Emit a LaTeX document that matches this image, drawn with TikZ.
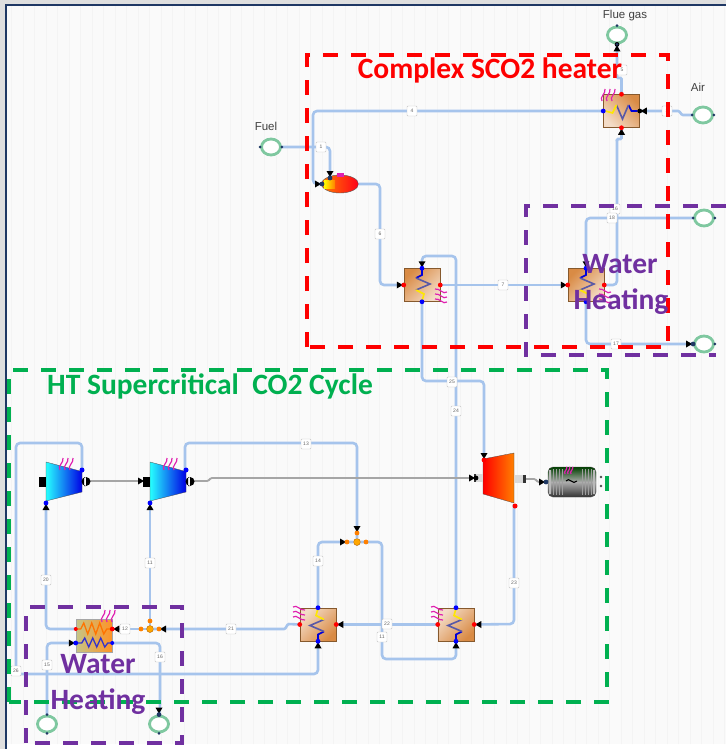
\documentclass[tikz,border=0pt]{standalone}
\usepackage{fontspec}
\setmainfont{Liberation Sans}
\newfontfamily\headfont{Carlito}
\usetikzlibrary{arrows.meta}
\usetikzlibrary{positioning, shapes.geometric}

\definecolor{pipeblue}{HTML}{A6C4EC}
\definecolor{sheet}{HTML}{FAFAFA}
\definecolor{gridline}{HTML}{F4F4F4}
\definecolor{navy}{HTML}{1F3864}
\definecolor{boxred}{HTML}{FE0000}
\definecolor{boxgreen}{HTML}{00B050}
\definecolor{boxpurple}{HTML}{7030A0}
\definecolor{ringgreen}{HTML}{7FC8A0}
\definecolor{hxbrown}{HTML}{D98B45}
\definecolor{heatpink}{HTML}{E020B0}

\tikzset{
  x=1pt, y=-1pt,
  pipe/.style={draw=pipeblue, line width=2.6pt, rounded corners=4pt},
  jog/.style={rounded corners=1pt},
  shaft/.style={draw=gray!70, line width=1.8pt, rounded corners=1pt},
  streamlab/.style={draw=gray!45, fill=white, rounded corners=1pt, inner sep=0pt,
    minimum width=10pt, minimum height=10pt, font=\fontsize{5}{5}\selectfont, text=gray!80!black},
  ring/.style={ellipse, draw=ringgreen, line width=2.8pt, fill=white, minimum width=19pt, minimum height=16pt, inner sep=0pt},
  hxbox/.style={draw=brown!70!black, line width=0.5pt, minimum width=36pt, minimum height=33pt,
    inner sep=0pt, left color=hxbrown, right color=hxbrown!30!white, shading angle=#1},
  endlab/.style={font=\fontsize{11.5}{12}\selectfont, text=black!75},
  redbox/.style={draw=boxred, line width=3.6pt, dash pattern=on 15pt off 13pt},
  greenbox/.style={draw=boxgreen, line width=3.6pt, dash pattern=on 15pt off 13pt},
  purplebox/.style={draw=boxpurple, line width=3.6pt, dash pattern=on 15pt off 13pt},
  boxtitle/.style={inner sep=0pt, font=\headfont\bfseries\fontsize{#1}{#1}\selectfont},
  pics/port/.style={code={
    \fill[black] (-7,-3.5) -- (-1,0) -- (-7,3.5) -- cycle;
    \fill[#1] (0,0) circle (2.4);
  }},
  pics/coil/.style={code={
    \draw[blue!85!black, line width=1.6pt] (0,-16) -- (0,-10) -- (-6,-7);
    \draw[gray!70!blue, line width=1.6pt] (-6,-7) -- (8,-1) -- (-6,5);
    \draw[yellow!90!orange, line width=1.6pt] (-6,5) -- (2,9) -- (0,16);
  }},
  pics/heat/.style={code={
    \foreach \hs in {0,5,10}
      \draw[heatpink, line width=1.2pt] (\hs,0) .. controls (\hs-3,-4) and (\hs+4,-7) .. (\hs+3,-12);
  }},
}

\begin{document}
\begin{tikzpicture}
  \useasboundingbox (0,0) rectangle (726,749);
  % sheet and window edge
  \fill[white] (0,0) rectangle (726,749);
  \fill[sheet] (6,5) rectangle (726,744);
  \draw[gridline, line width=0.3pt, xstep=11.5, ystep=11.5] (6,5) grid (726,744);
  \fill[gray!25] (0,0) rectangle (726,4);
  \fill[gray!25] (0,0) rectangle (5,749);
  \draw[navy, line width=1.5pt] (6,749) -- (6,5) -- (726,5);

  % equipment
  \node[ring] (fuel) at (271,147) {};
  \node[ring] (flue) at (617,35) {};
  \node[ring] (air) at (703,115) {};
  \node[ring] (watout) at (704,218) {};
  \node[ring] (watin) at (704,344) {};
  \node[ring] (lowin) at (47,724) {};
  \node[ring] (lowout) at (159,724) {};
  \node[endlab] (fuellab) at (266,126) {Fuel};
  \node[endlab] (fluelab) at (625,16) {Flue gas};
  \node[endlab] (airlab) at (698,87) {Air};

  \node[ellipse, draw=gray!70!black, line width=0.4pt, minimum width=37pt, minimum height=18pt, inner sep=0pt,
    left color=orange, right color=red!90!magenta] (combo) at (340,184) {};
  \node[hxbox=-45] (hxtop) at (621.5,111) {};
  \node[hxbox=45] (hxa) at (422,285) {};
  \node[hxbox=45] (hxb) at (586,285) {};
  \node[hxbox=225] (hxc) at (318,624.5) {};
  \node[hxbox=225] (hxd) at (456,624.5) {};
  \node[draw=gray!70, line width=0.5pt, minimum width=36pt, minimum height=33pt, inner sep=0pt,
    left color=yellow!35!gray!70, right color=orange!85] (hxe) at (94,635.5) {};

  \node[circle, fill=orange!70!yellow, draw=orange!60!black, line width=0.3pt, minimum size=7pt, inner sep=0pt] (spla) at (357,542) {};
  \node[circle, fill=orange!70!yellow, draw=orange!60!black, line width=0.3pt, minimum size=7pt, inner sep=0pt] (splb) at (150,629) {};
  \node[rounded corners=5pt, draw=gray!60!black, line width=0.4pt, minimum width=48pt, minimum height=30pt,
    inner sep=0pt, top color=black!75!green, bottom color=black!80, middle color=gray!65] (gen) at (572,482) {};

  % streams
  \draw[pipe] (fuel.east) -- (330,147) -- (330,176);
  \draw[pipe] (hxtop.west) -- (313,111) -- (313,184) -- (combo.west);
  \draw[pipe] (combo.east) -- (380,184) -- (380,285) -- (hxa.west);
  \draw[pipe] (hxa.east) -- (hxb.west);
  \draw[pipe] (hxb.east) -- (617,285) -- (617,140);
  \draw[pipe, jog] (617,141) -- (617,139) -- (621.5,139) -- (hxtop.south);
  \draw[pipe, jog] (hxtop.north) -- (621.5,78) -- (617,78) -- (flue.south);
  \draw[pipe, jog] (air.west) -- (682,115) -- (679,111) -- (hxtop.east);
  \draw[pipe] (watout.west) -- (586,218) -- (hxb.north);
  \draw[pipe] (hxb.south) -- (586,344) -- (watin.west);
  \draw[pipe] (hxa.north) -- (422,256) -- (456,256) -- (hxd.north);
  \draw[pipe] (hxa.south) -- (422,381) -- (484,381) -- (484,456);
  \draw[pipe] (514,504) -- (514,624) -- (hxd.east);
  \draw[pipe] (hxd.west) -- (hxc.east);
  \draw[pipe, jog] (hxc.west) -- (288,624) -- (285,629) -- (splb);
  \draw[pipe] (splb) -- (hxe.east |- splb);
  \draw[pipe] (splb) -- (150,505);
  \draw[pipe] (hxe.west |- splb) -- (46,629) -- (46,505);
  \draw[pipe] (82,472) -- (82,443) -- (16,443) -- (16,674) -- (318,674) -- (hxc.south);
  \draw[pipe] (185,472) -- (185,443) -- (357,443) -- (spla);
  \draw[pipe] (spla) -- (318,542) -- (hxc.north);
  \draw[pipe] (spla) -- (382,542) -- (382,659) -- (456,659) -- (hxd.south);
  \draw[pipe] (lowin.north) -- (47,643) -- (76,643);
  \draw[pipe] (112,643) -- (160,643) -- (160,708) -- (lowout.north);

  % shaft line
  \draw[shaft] (90,481) -- (138,481);
  \draw[shaft] (194,481) -- (208,481) -- (211,478) -- (472,478);
  \draw[shaft] (522,479) -- (535,479) -- (538,482) -- (546,482);

  % machines
  \shade[left color=cyan!85!white, right color=blue!90!black, draw=gray!60!black, line width=0.3pt]
    (46,462) -- (82,471.5) -- (82,492) -- (46,501) -- cycle;
  \shade[left color=cyan!85!white, right color=blue!90!black, draw=gray!60!black, line width=0.3pt]
    (150,462) -- (186,471.5) -- (186,492) -- (150,501) -- cycle;
  \shade[left color=red, right color=orange, draw=gray!60!black, line width=0.3pt]
    (483,459) -- (514,453) -- (514,503) -- (483,494) -- cycle;
  \fill[black] (84,477) rectangle (86,486) (86,481.5) circle (4.5);
  \fill[black] (188,477) rectangle (190,486) (190,481.5) circle (4.5);
  \fill[black] (39,477) rectangle (46,487);
  \fill[black] (143,477) rectangle (150,487);
  \fill[gray!30] (515,475) rectangle (523,483);
  \fill[black!80] (523,475) rectangle (526,483);
  \fill[gray!30] (476,474) rectangle (483,482);
  \fill[black!80] (474,474) rectangle (476,482);
  \pic at (145,481) {port=black};
  \pic at (476,478) {port=black};
  \pic at (546,482) {port=navy};
  \pic[rotate=-90] at (484,460) {port=red};
  \pic[rotate=90] at (46,503) {port=blue};
  \pic[rotate=90] at (150,503) {port=blue};
  \fill[blue] (82,470) circle (2.5) (186,470) circle (2.5);
  \fill[red] (515,506) circle (2.5);
  \pic at (60,470) {heat};
  \pic at (164,470) {heat};

  % generator details
  \foreach \gx in {553,556,559,562,582,585,588,591}
    \draw[gray!75, line width=0.6pt] (\gx,469) -- (\gx,495);
  \fill[gray!55] (549,470) rectangle (551,494) (593,470) rectangle (595,494);
  \draw[black, line width=1.1pt] (566,481) .. controls (569,476) and (573,486) .. (577,481);
  \pic[scale=.6] at (565,474) {heat};
  \fill[black!70] (601,477) circle (1.3) (601,486) circle (1.3);

  % combustor and exchanger details
  \shade[left color=yellow, right color=orange] (324,180) rectangle (335,188);
  \fill[heatpink] (337,173) rectangle (344,177);
  \pic at (322,184) {port=navy};
  \pic[rotate=-90] at (330,178) {port=navy};
  \pic[rotate=-90] at (hxtop) {coil};
  \pic at (hxa) {coil};
  \pic at (hxb) {coil};
  \pic[rotate=180] at (hxc) {coil};
  \pic[rotate=180] at (hxd) {coil};
  \draw[orange!90!red, line width=1.3pt] (hxe.west |- 0,629) -- ++(5,0) -- ++(3,-6) -- ++(4,11) -- ++(4,-11) -- ++(4,11) -- ++(4,-11) -- ++(4,11) -- ++(3,-5) -- (hxe.east |- 0,629);
  \draw[blue!60!gray, line width=1.3pt] (hxe.west |- 0,643) -- ++(6,0) -- ++(3,-5) -- ++(4,9) -- ++(4,-9) -- ++(4,9) -- ++(4,-9) -- ++(4,9) -- ++(3,-4) -- (hxe.east |- 0,643);
  \pic at (602,101) {heat};
  \pic[rotate=90] at (447,302) {heat};
  \pic[rotate=90] at (611,302) {heat};
  \pic[rotate=-90] at (293,607) {heat};
  \pic[rotate=-90] at (431,607) {heat};
  \pic at (102,622) {heat};

  % ports on the exchangers
  \pic at (hxa.west) {port=red};
  \pic at (hxb.west) {port=red};
  \pic[rotate=-90] at (hxa.north) {port=blue};
  \pic[rotate=-90] at (hxb.north) {port=blue};
  \pic[rotate=180] at (hxc.east) {port=red};
  \pic[rotate=180] at (hxd.east) {port=red};
  \pic[rotate=90] at (hxc.south) {port=blue};
  \pic[rotate=90] at (hxd.south) {port=blue};
  \pic[rotate=180] at (hxtop.east) {port=black};
  \pic[rotate=90] at (hxtop.south) {port=red};
  \pic[rotate=90] at (flue.south) {port=black};
  \pic at (hxe.west |- 0,643) {port=blue};
  \pic[rotate=180] at (hxe.east |- 0,629) {port=red};
  \pic at (watin.west) {port=navy};
  \pic[rotate=-90] at (lowout.north) {port=navy};
  \fill[red] (hxa.east) circle (2.4) (hxb.east) circle (2.4) (hxc.west) circle (2.4) (hxd.west) circle (2.4) (hxtop.north) circle (2.4) (hxe.west |- 0,629) circle (2);
  \fill[blue] (hxa.south) circle (2.4) (hxb.south) circle (2.4) (hxc.north) circle (2.4) (hxd.north) circle (2.4) (hxtop.west) circle (2.4) (hxe.east |- 0,643) circle (2);
  % dots on the end rings
  \foreach \rg in {fuel,air,watout,watin}
    \fill[navy] (\rg.west) circle (1.5) (\rg.east) circle (1.5);
  \foreach \rg in {flue,lowin,lowout}
    \fill[navy] (\rg.north) circle (1.5) (\rg.south) circle (1.5);

  % splitters
  \pic[rotate=-90] at (357,533) {port=orange};
  \pic at (347,542) {port=orange};
  \fill[orange] (366,542) circle (2.4);
  \pic[rotate=180] at (159,629) {port=orange};
  \fill[orange] (141,629) circle (2.4) (150,621) circle (2.4);

  % stream numbers
  \node[streamlab] (s1) at (321,147) {1};
  \node[streamlab] (s4) at (412,111) {4};
  \node[streamlab] (s3) at (667,111) {3};
  \node[streamlab] (s5) at (622,70) {5};
  \node[streamlab] (s6) at (380,234) {6};
  \node[streamlab] (s7) at (503,285) {7};
  \node[streamlab] (s16a) at (615,209) {16};
  \node[streamlab] (s18) at (612,218) {18};
  \node[streamlab] (s17) at (616,344) {17};
  \node[streamlab] (s25) at (452,382) {25};
  \node[streamlab] (s24) at (456,411) {24};
  \node[streamlab] (s13) at (306,444) {13};
  \node[streamlab] (s23) at (514,583) {23};
  \node[streamlab] (s14) at (318,561) {14};
  \node[streamlab] (s22) at (387,624) {22};
  \node[streamlab] (s11a) at (382,637) {11};
  \node[streamlab] (s11b) at (150,563) {11};
  \node[streamlab] (s20) at (46,580) {20};
  \node[streamlab] (s21) at (231,629) {21};
  \node[streamlab] (s12) at (125,629) {12};
  \node[streamlab] (s15) at (47,665) {15};
  \node[streamlab] (s16b) at (160,657) {16};
  \node[streamlab] (s26) at (16,671) {26};

  % dashed groups
  \draw[redbox] (307,347) -- (307,55) -- (668,55) -- (668,347) -- cycle;
  \draw[purplebox] (726,206) -- (526,206) -- (526,355) -- (716,355);
  \draw[greenbox] (9,702) -- (9,370) -- (607,370) -- (607,702) -- cycle;
  \draw[purplebox] (26,743) -- (26,607) -- (182,607) -- (182,743) -- cycle;

  % titles
  \node[boxtitle=29.5, text=boxred] (redtitle) at (490,70) {Complex SCO2 heater};
  \node[boxtitle=29.5, text=boxgreen, anchor=west] (greentitle) at (47,386) {HT Supercritical\ \ CO2 Cycle};
  \node[boxtitle=29.5, text=boxpurple] (watera) at (620,264) {Water};
  \node[boxtitle=29.5, text=boxpurple] (heata) at (621,302) {Heating};
  \node[boxtitle=29.5, text=boxpurple] (waterb) at (98,664) {Water};
  \node[boxtitle=29.5, text=boxpurple] (heatb) at (98,702) {Heating};
\end{tikzpicture}
\end{document}
